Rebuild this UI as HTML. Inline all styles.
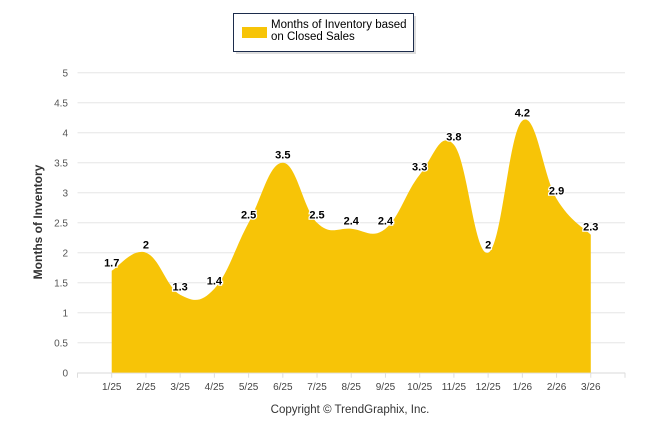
<!DOCTYPE html>
<html><head><meta charset="utf-8"><style>
body{margin:0;background:#fff;font-family:"Liberation Sans",sans-serif}
</style></head><body>
<svg id="c" width="646" height="434" xmlns="http://www.w3.org/2000/svg"></svg>
<script>
const categories=["1/25","2/25","3/25","4/25","5/25","6/25","7/25","8/25","9/25","10/25","11/25","12/25","1/26","2/26","3/26"];
const values=[1.7,2,1.3,1.4,2.5,3.5,2.5,2.4,2.4,3.3,3.8,2,4.2,2.9,2.3];
const yTicks=["0","0.5","1","1.5","2","2.5","3","3.5","4","4.5","5"];
const svg=document.getElementById('c');
const NS='http://www.w3.org/2000/svg';
function mk(t,a,p){const e=document.createElementNS(NS,t);for(const k in a)e.setAttribute(k,a[k]);(p||svg).appendChild(e);return e;}
const x0=77.5,x1=625,y0=372.7,yTop=72.7;
const step=(x1-x0)/(categories.length+1);
const xs=i=>x0+step*(i+1);
const ys=v=>y0-(v/5)*(y0-yTop);
// grid
yTicks.forEach(t=>{const v=parseFloat(t);const y=ys(v);
 const g=mk('line',{x1:x0,x2:x1,y1:y,y2:y,stroke:'#e6e6e6','stroke-width':1});
 
 const l=mk('text',{x:68,y:y+4,'text-anchor':'end','font-size':10,fill:'#555'});l.textContent=t;
 
});
// area spline
const pts=values.map((v,i)=>[xs(i),ys(v)]);
let d=`M${pts[0][0]},${y0} L${pts[0][0]},${pts[0][1]}`;
const s=0.2;
for(let i=0;i<pts.length-1;i++){
 const p0=pts[Math.max(i-1,0)],p1=pts[i],p2=pts[i+1],p3=pts[Math.min(i+2,pts.length-1)];
 const c1=[p1[0]+(p2[0]-p0[0])*s,p1[1]+(p2[1]-p0[1])*s];
 const c2=[p2[0]-(p3[0]-p1[0])*s,p2[1]-(p3[1]-p1[1])*s];
 d+=` C${c1[0]},${c1[1]} ${c2[0]},${c2[1]} ${p2[0]},${p2[1]}`;
}
d+=` L${pts[pts.length-1][0]},${y0} Z`;
const area=mk('path',{d:d,fill:'#F7C407'});

// x axis
const ax=mk('line',{x1:x0,x2:x1,y1:y0+0.5,y2:y0+0.5,stroke:'#e6e6e6'});

for(let i=-1;i<=categories.length;i++){const t=mk('line',{x1:xs(i),x2:xs(i),y1:y0,y2:y0+5,stroke:'#ddd'});
 }
categories.forEach((c,i)=>{const l=mk('text',{x:xs(i),y:390,'text-anchor':'middle','font-size':10,fill:'#444'});l.textContent=c;
 });
// data labels
values.forEach((v,i)=>{const l=mk('text',{x:xs(i),y:ys(v)-4,'text-anchor':'middle','font-size':11,'font-weight':'bold',fill:'#000',stroke:'#fff','stroke-width':2.5,'paint-order':'stroke'});l.textContent=String(v);
 });
// y title
const yt=mk('text',{x:0,y:0,transform:'translate(42,222) rotate(-90)','text-anchor':'middle','font-size':12,'font-weight':'bold',fill:'#333'});yt.textContent='Months of Inventory';

// copyright
const cp=mk('text',{x:350,y:413,'text-anchor':'middle','font-size':11.5,fill:'#333'});cp.textContent='Copyright © TrendGraphix, Inc.';

// legend
const lg=mk('g',{});
mk('rect',{x:236,y:16,width:180,height:38,fill:'#bbb',opacity:0.5},lg);
mk('rect',{x:233.5,y:13.5,width:180,height:38,fill:'#fff',stroke:'#1c2c4c','stroke-width':1},lg);
const sw=mk('rect',{x:242,y:27,width:25,height:11,fill:'#F7C407'},lg);

const t1=mk('text',{x:271,y:28,'font-size':11.5,fill:'#000'},lg);t1.textContent='Months of Inventory based';
const t2=mk('text',{x:271,y:40,'font-size':11.5,fill:'#000'},lg);t2.textContent='on Closed Sales';


</script>
</body></html>
